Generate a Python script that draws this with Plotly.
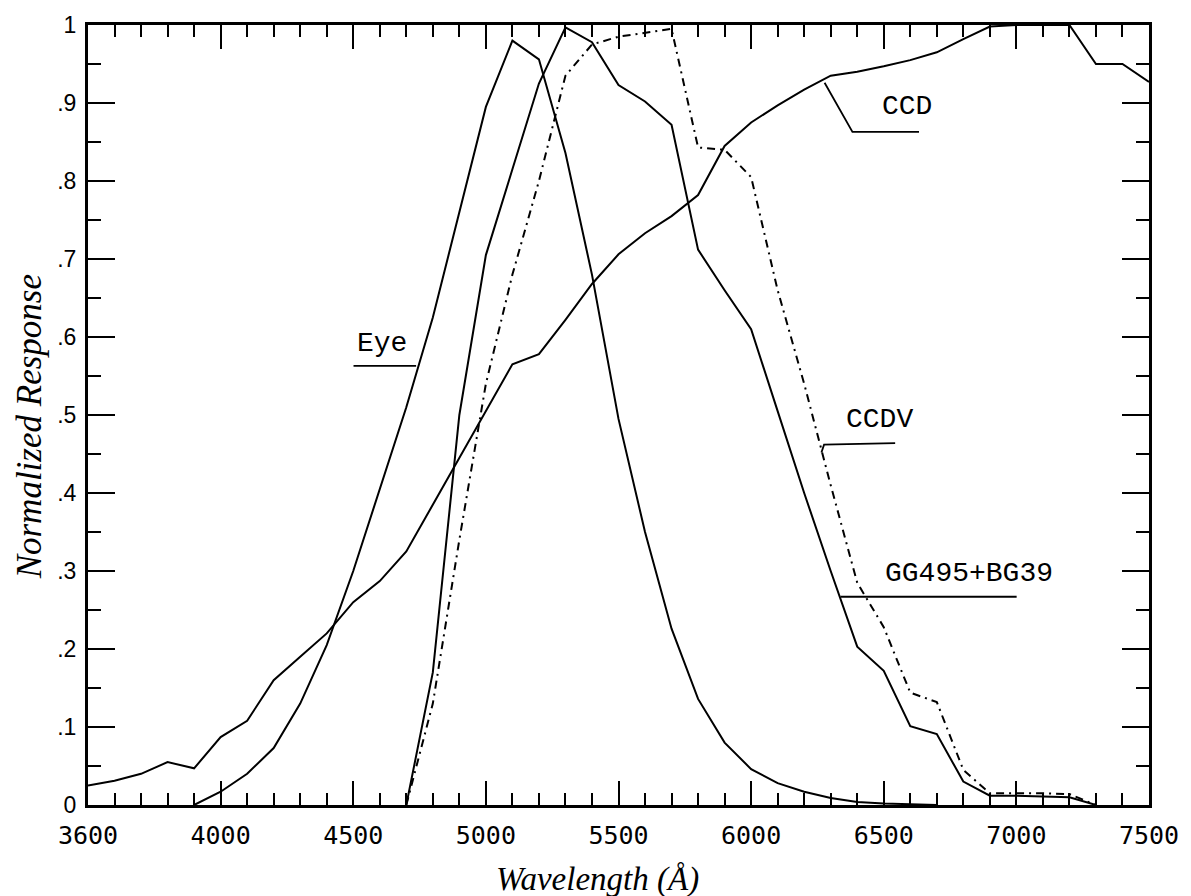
import plotly.graph_objects as go

# ---------------- data ----------------
eye_wl = [3900, 4000, 4100, 4200, 4300, 4400, 4500, 4600, 4700, 4800, 4900, 5000,
          5100, 5200, 5300, 5400, 5500, 5600, 5700, 5800, 5900, 6000, 6100, 6200,
          6300, 6400, 6500, 6600, 6700]
eye_resp = [0.0, 0.017, 0.040, 0.073, 0.13, 0.205, 0.30, 0.405, 0.51, 0.625, 0.76, 0.895,
            0.98, 0.956, 0.836, 0.68, 0.495, 0.35, 0.226, 0.136, 0.08, 0.046, 0.028, 0.017,
            0.009, 0.004, 0.002, 0.001, 0.0]

ccd_wl = [3500, 3600, 3700, 3800, 3900, 4000, 4100, 4200, 4300, 4400, 4500, 4600, 4700,
          4800, 4900, 5000, 5100, 5200, 5300, 5400, 5500, 5600, 5700, 5800, 5900, 6000,
          6100, 6200, 6300, 6400, 6500, 6600, 6700, 6800, 6900, 7000, 7100, 7200, 7300,
          7400, 7500]
ccd_resp = [0.025, 0.031, 0.040, 0.055, 0.047, 0.087, 0.108, 0.16, 0.19, 0.22, 0.26, 0.287,
            0.325, 0.385, 0.445, 0.505, 0.565, 0.578, 0.622, 0.668, 0.706, 0.733, 0.755,
            0.782, 0.845, 0.875, 0.897, 0.917, 0.935, 0.94, 0.947, 0.955, 0.965, 0.982,
            0.998, 1.0, 1.0, 1.0, 0.95, 0.95, 0.927]

gg_wl = [4700, 4800, 4900, 5000, 5100, 5200, 5300, 5400, 5500, 5600, 5700, 5800, 5900,
         6000, 6100, 6200, 6300, 6400, 6500, 6600, 6700, 6800, 6900, 7000, 7100, 7200, 7300]
gg_resp = [0.0, 0.17, 0.50, 0.705, 0.815, 0.925, 0.997, 0.978, 0.923, 0.902, 0.872, 0.712,
           0.66, 0.61, 0.505, 0.40, 0.30, 0.203, 0.172, 0.101, 0.091, 0.030, 0.012, 0.012,
           0.011, 0.010, 0.0]

ccdv_wl = [4700, 4800, 4900, 5000, 5100, 5200, 5300, 5400, 5500, 5600, 5700, 5800, 5900,
           6000, 6100, 6200, 6300, 6400, 6500, 6600, 6700, 6800, 6900, 7000, 7100, 7200, 7300]
ccdv_resp = [0.0, 0.13, 0.34, 0.54, 0.68, 0.80, 0.935, 0.975, 0.985, 0.99, 0.995, 0.843,
             0.840, 0.805, 0.66, 0.54, 0.41, 0.285, 0.228, 0.144, 0.132, 0.045, 0.015,
             0.015, 0.015, 0.014, 0.0]

x_tickvals = [3500, 4000, 4500, 5000, 5500, 6000, 6500, 7000, 7500]
x_ticktext = ["3600", "4000", "4500", "5000", "5500", "6000", "6500", "7000", "7500"]
y_tickvals = [0, 0.1, 0.2, 0.3, 0.4, 0.5, 0.6, 0.7, 0.8, 0.9, 1.0]
y_ticktext = ["0", ".1", ".2", ".3", ".4", ".5", ".6", ".7", ".8", ".9", "1"]

# curve labels: (text, text anchor x, y, leader line points)
labels = [
    ("Eye", 4508, 0.592, [(4501, 0.563), (4737, 0.563)]),
    ("CCD", 6487, 0.895, [(6277, 0.926), (6382, 0.863), (6633, 0.863)]),
    ("CCDV", 6349, 0.494, [(6265, 0.452), (6275, 0.462), (6543, 0.464)]),
    ("GG495+BG39", 6498, 0.297, [(6337, 0.267), (7001, 0.267)]),
]

# ---------------- figure ----------------
fig = go.Figure()
line_style = dict(color="black", width=2)
fig.add_trace(go.Scatter(x=eye_wl, y=eye_resp, mode="lines", line=line_style, name="Eye"))
fig.add_trace(go.Scatter(x=ccd_wl, y=ccd_resp, mode="lines", line=line_style, name="CCD"))
fig.add_trace(go.Scatter(x=gg_wl, y=gg_resp, mode="lines", line=line_style, name="GG495+BG39"))
fig.add_trace(go.Scatter(x=ccdv_wl, y=ccdv_resp, mode="lines",
                         line=dict(color="black", width=2, dash="8px,5px,2px,5px"), name="CCDV"))

label_font = dict(family="Liberation Mono", size=28, color="black")
for text, tx, ty, pts in labels:
    fig.add_annotation(x=tx, y=ty, xref="x", yref="y", text=text, showarrow=False,
                       xanchor="left", yanchor="middle", font=label_font)
    path = "M " + " L ".join(f"{px},{py}" for px, py in pts)
    fig.add_shape(type="path", path=path, xref="x", yref="y",
                  line=dict(color="black", width=1.8))

axis_common = dict(
    showline=True, linewidth=3, linecolor="black", mirror="ticks",
    ticks="inside", tickwidth=2, tickcolor="black",
    showgrid=False, zeroline=False,
)
fig.update_xaxes(
    range=[3500, 7500], tickmode="array", tickvals=x_tickvals, ticktext=x_ticktext,
    ticklen=24, ticklabelstandoff=6,
    tickfont=dict(family="DejaVu Sans Mono", size=25, color="black"),
    minor=dict(tick0=3500, dtick=100, ticklen=12, tickwidth=2, tickcolor="black",
               ticks="inside", showgrid=False),
    **axis_common,
)
fig.update_yaxes(
    range=[0, 1], tickmode="array", tickvals=y_tickvals, ticktext=y_ticktext,
    ticklen=27, ticklabelstandoff=4,
    tickfont=dict(family="Liberation Sans", size=23, color="black"),
    minor=dict(tick0=0, dtick=0.05, ticklen=13, tickwidth=2, tickcolor="black",
               ticks="inside", showgrid=False),
    **axis_common,
)

fig.add_annotation(x=0.48, y=-0.096, xref="paper", yref="paper", text="<i>Wavelength (Å)</i>",
                   showarrow=False, xanchor="center", yanchor="middle",
                   font=dict(family="Liberation Serif", size=33, color="black"))
fig.add_annotation(x=-0.055, y=0.485, xref="paper", yref="paper", text="<i>Normalized Response</i>",
                   showarrow=False, textangle=-90, xanchor="center", yanchor="middle",
                   font=dict(family="Liberation Serif", size=35, color="black"))

fig.update_layout(
    width=1191, height=896,
    margin=dict(l=88, r=36, t=25, b=91),
    plot_bgcolor="white", paper_bgcolor="white",
    showlegend=False,
)

fig.write_html("out.html")
